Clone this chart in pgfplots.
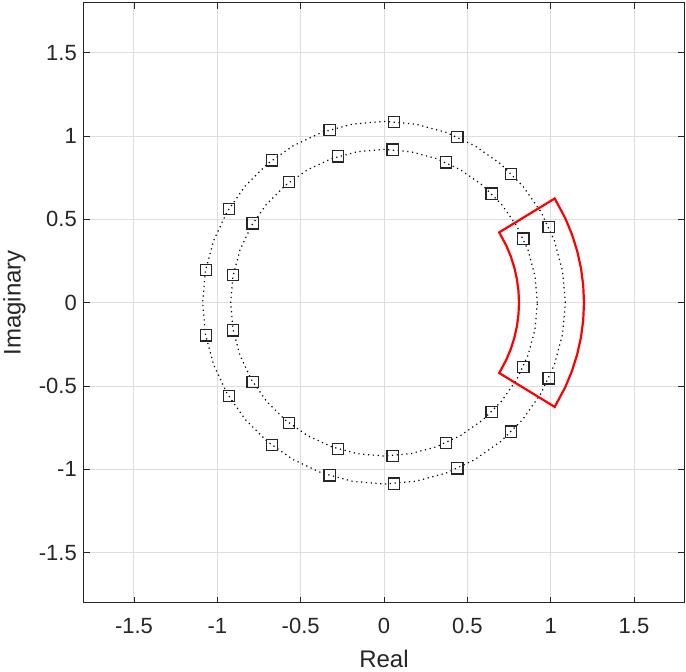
\documentclass[border=0pt]{standalone}
\usepackage{fontspec}
\setmainfont{Liberation Sans}
\usepackage{pgfplots}
\pgfplotsset{compat=1.18}
\definecolor{axgray}{RGB}{38,38,38}
\definecolor{gridgray}{RGB}{222,222,222}
\begin{document}
\begin{tikzpicture}
\useasboundingbox (-84pt,-69.3pt) rectangle (602pt,602.7pt);
\begin{axis}[
  scale only axis,
  width=600pt, height=600pt,
  xmin=-1.8, xmax=1.8, ymin=-1.8, ymax=1.8,
  xtick={-1.5,-1,-0.5,0,0.5,1,1.5},
  ytick={-1.5,-1,-0.5,0,0.5,1,1.5},
  xticklabels={-1.5,-1,-0.5,0,0.5,1,1.5},
  yticklabels={-1.5,-1,-0.5,0,0.5,1,1.5},
  grid=major,
  major grid style={line width=1pt, draw=gridgray},
  tick align=inside,
  major tick length=6pt,
  every tick/.style={axgray, line width=0.8pt},
  axis line style={axgray, line width=1pt},
  tick label style={font=\fontsize{22}{24}\selectfont, text=axgray},
  xticklabel style={yshift=-12pt},
  yticklabel style={xshift=-3.7pt},
  label style={font=\fontsize{24}{28}\selectfont, text=axgray},
  xlabel={Real},
  ylabel={Imaginary},
  xlabel style={at={(axis description cs:0.5,-0.0783)}, anchor=north, inner sep=0pt},
  ylabel style={at={(axis description cs:-0.135,0.5)}, anchor=north, inner sep=0pt},
  clip=false,
]
% outer dotted circle
\addplot[black, line width=1.2pt, dash pattern=on 1.2pt off 3.6pt] coordinates {
(1.088,0) (1.0715,0.1889) (1.0224,0.3721) (0.9422,0.5440) (0.8334,0.6994) (0.6994,0.8334) (0.5440,0.9422) (0.3721,1.0224) (0.1889,1.0715) (0,1.088)
(-0.1889,1.0715) (-0.3721,1.0224) (-0.5440,0.9422) (-0.6994,0.8334) (-0.8334,0.6994) (-0.9422,0.5440) (-1.0224,0.3721) (-1.0715,0.1889) (-1.088,0)
(-1.0715,-0.1889) (-1.0224,-0.3721) (-0.9422,-0.5440) (-0.8334,-0.6994) (-0.6994,-0.8334) (-0.5440,-0.9422) (-0.3721,-1.0224) (-0.1889,-1.0715) (0,-1.088)
(0.1889,-1.0715) (0.3721,-1.0224) (0.5440,-0.9422) (0.6994,-0.8334) (0.8334,-0.6994) (0.9422,-0.5440) (1.0224,-0.3721) (1.0715,-0.1889) (1.088,0)
};
% inner dotted circle
\addplot[black, line width=1.2pt, dash pattern=on 1.2pt off 3.6pt] coordinates {
(0.92,0) (0.9060,0.1598) (0.8645,0.3147) (0.7967,0.46) (0.7048,0.5914) (0.5914,0.7048) (0.46,0.7967) (0.3147,0.8645) (0.1598,0.9060) (0,0.92)
(-0.1598,0.9060) (-0.3147,0.8645) (-0.46,0.7967) (-0.5914,0.7048) (-0.7048,0.5914) (-0.7967,0.46) (-0.8645,0.3147) (-0.9060,0.1598) (-0.92,0)
(-0.9060,-0.1598) (-0.8645,-0.3147) (-0.7967,-0.46) (-0.7048,-0.5914) (-0.5914,-0.7048) (-0.46,-0.7967) (-0.3147,-0.8645) (-0.1598,-0.9060) (0,-0.92)
(0.1598,-0.9060) (0.3147,-0.8645) (0.46,-0.7967) (0.5914,-0.7048) (0.7048,-0.5914) (0.7967,-0.46) (0.8645,-0.3147) (0.9060,-0.1598) (0.92,0)
};
% red sector
\addplot[red, line width=2.2pt, line join=miter] coordinates {
(0.81,0) (0.8069,-0.0706) (0.7977,-0.1406) (0.7824,-0.2096) (0.7612,-0.2770) (0.7341,-0.3423) (0.6914,-0.4220)
(1.0243,-0.6252) (1.0876,-0.5071) (1.1276,-0.4104) (1.1591,-0.3106) (1.1818,-0.2083) (1.1954,-0.1046) (1.2,0)
(1.1954,0.1046) (1.1818,0.2083) (1.1591,0.3106) (1.1276,0.4104) (1.0876,0.5071) (1.0243,0.6252)
(0.6914,0.4220) (0.7341,0.3423) (0.7612,0.2770) (0.7824,0.2096) (0.7977,0.1406) (0.8069,0.0706) (0.81,0)
};
% outer markers
\addplot[only marks, mark=square, mark size=5.6pt, mark options={draw=black!85, line width=1.2pt, solid}] coordinates {
(0.9875,0.4543) (0.7633,0.7739) (0.4403,0.9938) (0.0607,1.0853) (-0.3269,1.0367) (-0.6722,0.8543) (-0.9308,0.5614) (-1.0692,0.1962)
(0.9875,-0.4543) (0.7633,-0.7739) (0.4403,-0.9938) (0.0607,-1.0853) (-0.3269,-1.0367) (-0.6722,-0.8543) (-0.9308,-0.5614) (-1.0692,-0.1962)
};
% inner markers
\addplot[only marks, mark=square, mark size=5.6pt, mark options={draw=black!85, line width=1.2pt, solid}] coordinates {
(0.8358,0.3845) (0.6460,0.6550) (0.3727,0.8412) (0.0513,0.9185) (-0.2766,0.8774) (-0.5689,0.7230) (-0.7878,0.4752) (-0.9049,0.1661)
(0.8358,-0.3845) (0.6460,-0.6550) (0.3727,-0.8412) (0.0513,-0.9185) (-0.2766,-0.8774) (-0.5689,-0.7230) (-0.7878,-0.4752) (-0.9049,-0.1661)
};
\end{axis}
\end{tikzpicture}
\end{document}
